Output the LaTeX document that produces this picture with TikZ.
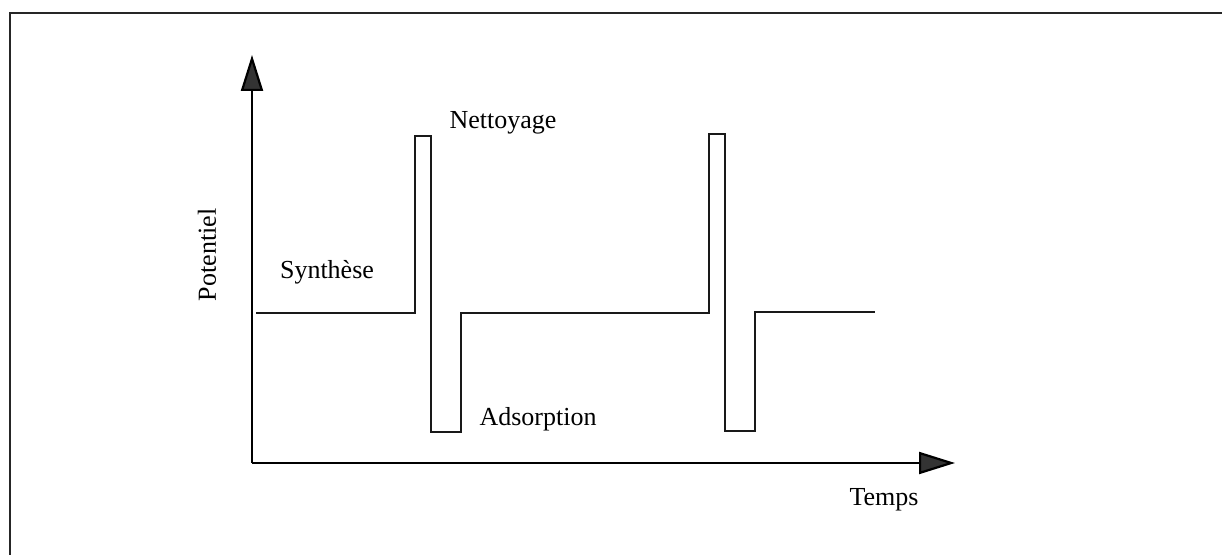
\documentclass[tikz,border=0pt]{standalone}
\usepackage{fontspec}
\setmainfont{Liberation Serif}
\usetikzlibrary{arrows.meta}
\begin{document}
\begin{tikzpicture}[x=0.5bp,y=-0.5bp,
  frameline/.style={line width=1.1bp,black!85},
  axisline/.style={line width=1.1bp,black,-{Triangle[length=18bp,width=11bp,fill=black!80]}},
  wave/.style={line width=1.1bp,black!90,line join=miter},
  lbl/.style={font=\fontsize{13bp}{15bp}\selectfont,inner sep=0pt}]
\useasboundingbox (0,0) rectangle (1222,555);
% frame
\coordinate (fTL) at (10,13);
\coordinate (fTR) at (1222,13);
\coordinate (fBL) at (10,555);
\draw[frameline] (fBL) -- (fTL) -- (fTR);
% axes
\coordinate (O) at (252,463);
\coordinate (ytip) at (252,55);
\coordinate (xtip) at (955,463);
\draw[axisline] (O) -- (ytip);
\draw[axisline] (O) -- (xtip);
% waveform
\coordinate (w0) at (256,313);
\coordinate (w1) at (415,313);
\coordinate (w2) at (415,136);
\coordinate (w3) at (431,136);
\coordinate (w4) at (431,432);
\coordinate (w5) at (461,432);
\coordinate (w6) at (461,313);
\coordinate (w7) at (709,313);
\coordinate (w8) at (709,134);
\coordinate (w9) at (725,134);
\coordinate (w10) at (725,431);
\coordinate (w11) at (755,431);
\coordinate (w12) at (755,312);
\coordinate (w13) at (875,312);
\draw[wave] (w0) -- (w1) -- (w2) -- (w3) -- (w4) -- (w5) -- (w6) -- (w7) -- (w8) -- (w9) -- (w10) -- (w11) -- (w12) -- (w13);
% labels
\node[lbl,rotate=90] (pot) at (207,255) {Potentiel};
\node[lbl] (syn) at (327,272) {Synthèse};
\node[lbl] (net) at (503,123) {Nettoyage};
\node[lbl] (ads) at (538,419) {Adsorption};
\node[lbl] (tmp) at (884,500) {Temps};
\end{tikzpicture}
\end{document}
